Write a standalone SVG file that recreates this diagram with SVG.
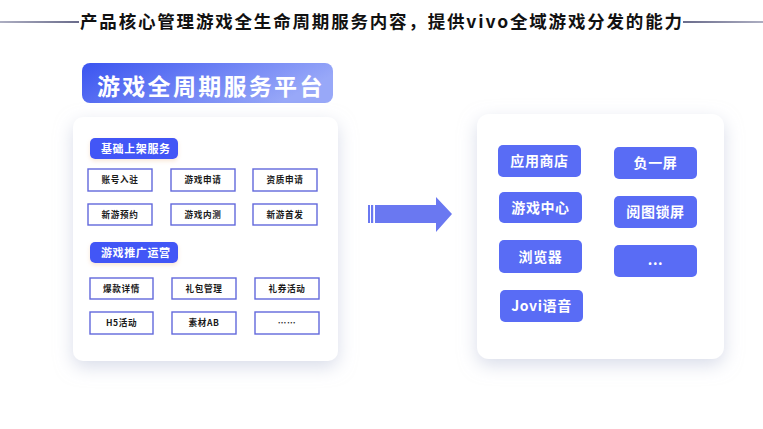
<svg xmlns="http://www.w3.org/2000/svg" width="763" height="429" viewBox="0 0 763 429">
  <defs>
    <linearGradient id="lineL" gradientUnits="userSpaceOnUse" x1="0" y1="22" x2="79" y2="22">
      <stop offset="0" stop-color="#8a8ca8"/>
      <stop offset="1" stop-color="#2a2d5a"/>
    </linearGradient>
    <linearGradient id="lineR" gradientUnits="userSpaceOnUse" x1="683" y1="22" x2="763" y2="22">
      <stop offset="0" stop-color="#2a2d5a"/>
      <stop offset="1" stop-color="#8a8ca8"/>
    </linearGradient>
    <linearGradient id="badge" x1="0" y1="0" x2="1" y2="0.3">
      <stop offset="0" stop-color="#3a54f0"/>
      <stop offset="1" stop-color="#98a8f8"/>
    </linearGradient>
    <filter id="cardShadow" x="-20%" y="-20%" width="140%" height="140%">
      <feDropShadow dx="0" dy="6" stdDeviation="9" flood-color="#b9c0d8" flood-opacity="0.55"/>
    </filter>
    <filter id="pillShadow" x="-20%" y="-40%" width="140%" height="180%">
      <feDropShadow dx="0" dy="2" stdDeviation="2" flood-color="#f0c8a0" flood-opacity="0.45"/>
    </filter>
  </defs>
  <style>
    .cjk { font-family: "Noto Sans CJK SC", "Noto Sans", sans-serif; }
    .title { font-size: 17.5px; font-weight: 700; fill: #111; }
    .badgeText { font-size: 23px; font-weight: 700; fill: #fff; letter-spacing: 2.3px; }
    .card { fill: #fff; filter: url(#cardShadow); }
    .pill { fill: #4357f6; filter: url(#pillShadow); }
    .pillText { font-size: 11px; font-weight: 700; fill: #fff; letter-spacing: 0.6px; }
    .box { fill: #fff; stroke: #6268dc; stroke-width: 1.4; }
    .boxText { font-size: 8.6px; font-weight: 700; fill: #1a1a1a; letter-spacing: 0.6px; }
    .btn { fill: #596cf5; }
    .btnText { font-size: 14px; font-weight: 700; fill: #fff; letter-spacing: 0.6px; }
    .arrow { fill: #6a78f1; }
  </style>
  <rect width="763" height="429" fill="#fff"/>

  <!-- header -->
  <g id="header">
    <rect x="0" y="21.3" width="79" height="1.4" fill="url(#lineL)"/>
    <rect x="683" y="21.3" width="80" height="1.4" fill="url(#lineR)"/>
    <text class="cjk title" x="80" y="28" textLength="602" lengthAdjust="spacing">产品核心管理游戏全生命周期服务内容，提供vivo全域游戏分发的能力</text>
  </g>

  <g id="platform-badge">
    <rect x="82" y="63" width="251" height="40" rx="8" fill="url(#badge)"/>
    <text class="cjk badgeText" x="97" y="95">游戏全周期服务平台</text>
  </g>

  <!-- left card -->
  <g id="left-card">
    <rect class="card" x="73" y="117" width="265" height="244" rx="10"/>
  </g>

  <g id="basic-services">
    <rect class="pill" x="90" y="138" width="88" height="21" rx="5"/>
    <text class="cjk pillText" x="101" y="152.5">基础上架服务</text>
  </g>
  <g id="node-account"><rect class="box" x="88" y="169" width="64" height="22"/><text class="cjk boxText" x="120" y="183" text-anchor="middle">账号入驻</text></g>
  <g id="node-game-apply"><rect class="box" x="171" y="169" width="64" height="22"/><text class="cjk boxText" x="203" y="183" text-anchor="middle">游戏申请</text></g>
  <g id="node-qual-apply"><rect class="box" x="253" y="169" width="64" height="22"/><text class="cjk boxText" x="285" y="183" text-anchor="middle">资质申请</text></g>
  <g id="node-reserve"><rect class="box" x="88" y="204" width="64" height="21"/><text class="cjk boxText" x="120" y="217.5" text-anchor="middle">新游预约</text></g>
  <g id="node-beta"><rect class="box" x="171" y="204" width="64" height="21"/><text class="cjk boxText" x="203" y="217.5" text-anchor="middle">游戏内测</text></g>
  <g id="node-launch"><rect class="box" x="253" y="204" width="64" height="21"/><text class="cjk boxText" x="285" y="217.5" text-anchor="middle">新游首发</text></g>

  <g id="promo-ops">
    <rect class="pill" x="90" y="242" width="88" height="21" rx="5"/>
    <text class="cjk pillText" x="101" y="256.5">游戏推广运营</text>
  </g>
  <g id="node-detail"><rect class="box" x="90" y="278" width="63" height="21"/><text class="cjk boxText" x="121.5" y="291.5" text-anchor="middle">爆款详情</text></g>
  <g id="node-gift"><rect class="box" x="172" y="278" width="64" height="21"/><text class="cjk boxText" x="204" y="291.5" text-anchor="middle">礼包管理</text></g>
  <g id="node-coupon"><rect class="box" x="255" y="278" width="64" height="21"/><text class="cjk boxText" x="287" y="291.5" text-anchor="middle">礼券活动</text></g>
  <g id="node-h5"><rect class="box" x="90" y="312" width="63" height="22"/><text class="cjk boxText" x="121.5" y="326" text-anchor="middle">H5活动</text></g>
  <g id="node-ab"><rect class="box" x="172" y="312" width="64" height="22"/><text class="cjk boxText" x="204" y="326" text-anchor="middle">素材AB</text></g>
  <g id="node-more-left"><rect class="box" x="255" y="312" width="64" height="22"/><text class="cjk boxText" x="287" y="326" text-anchor="middle">……</text></g>

  <!-- connectors -->
  <g id="connectors">
    <rect class="arrow" x="368" y="205" width="2" height="18"/>
    <rect class="arrow" x="371" y="205" width="2.2" height="18"/>
    <polygon class="arrow" points="375,205 436,205 436,197 452,214 436,232 436,223 375,223"/>
  </g>

  <!-- right card -->
  <g id="right-card">
    <rect class="card" x="477" y="114" width="247" height="245" rx="12"/>
  </g>
  <g id="node-appstore"><rect class="btn" x="498" y="145" width="83" height="32" rx="5"/><text class="cjk btnText" x="539.5" y="166" text-anchor="middle">应用商店</text></g>
  <g id="node-minus-one"><rect class="btn" x="614" y="147" width="83" height="32" rx="5"/><text class="cjk btnText" x="655.5" y="168" text-anchor="middle">负一屏</text></g>
  <g id="node-gamecenter"><rect class="btn" x="499" y="192" width="83" height="31" rx="5"/><text class="cjk btnText" x="540.5" y="212.5" text-anchor="middle">游戏中心</text></g>
  <g id="node-lockscreen"><rect class="btn" x="614" y="196" width="83" height="32" rx="5"/><text class="cjk btnText" x="655.5" y="217" text-anchor="middle">阅图锁屏</text></g>
  <g id="node-browser"><rect class="btn" x="499" y="240" width="83" height="33" rx="5"/><text class="cjk btnText" x="540.5" y="261.5" text-anchor="middle">浏览器</text></g>
  <g id="node-more-right"><rect class="btn" x="614" y="245" width="83" height="32" rx="5"/><text class="cjk btnText" x="655.5" y="265" text-anchor="middle">...</text></g>
  <g id="node-jovi"><rect class="btn" x="500" y="290" width="83" height="32" rx="5"/><text class="cjk btnText" x="541.5" y="311" text-anchor="middle">Jovi语音</text></g>
</svg>
